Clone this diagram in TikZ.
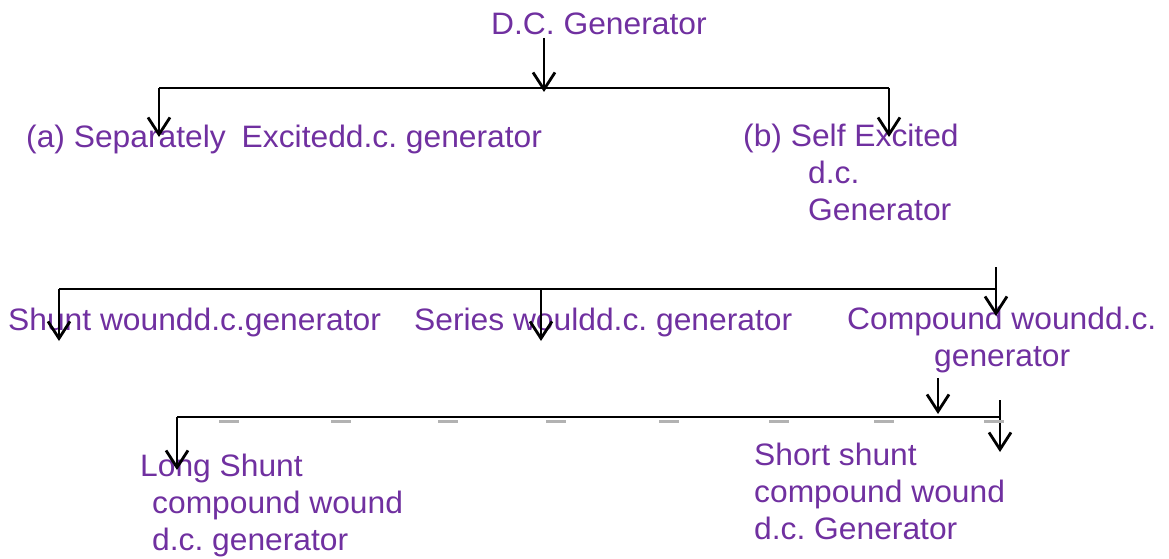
\documentclass[tikz,border=0pt]{standalone}
\usepackage{fontspec}
\setmainfont[FakeStretch=1.025]{Liberation Sans}
\usetikzlibrary{arrows.meta}
\definecolor{txt}{RGB}{112,48,160}
\frenchspacing
\tikzset{
  lbl/.style={text=txt, font=\fontsize{31}{37}\selectfont, inner sep=0pt, anchor=base west, align=left},
  ln/.style={line width=2.8pt, black},
  arr/.style={ln, -{Straight Barb[length=17pt, width=22pt, line width=2.8pt]}},
  smudge/.style={line width=3pt, gray!60}
}
\begin{document}
\begin{tikzpicture}[x=1pt,y=-1pt]
\useasboundingbox (0,0) rectangle (1169,559);
% texts (base = baseline of the last line)
\node[lbl] (root) at (491,35) {D.C. Generator};
\node[lbl] (sep) at (26,147) {(a) Separately\hspace{16pt}Excitedd.c. generator};
\node[lbl] (self) at (743,220) {(b) Self Excited\\\hspace*{65pt}d.c.\\\hspace*{65pt}Generator};
\node[lbl] (shunt) at (8,330) {Shunt woundd.c.generator};
\node[lbl] (series) at (414,330) {Series wouldd.c. generator};
\node[lbl] (comp) at (847,366) {Compound woundd.c.\\\hspace*{87pt}generator};
\node[lbl] (long) at (140,550) {Long Shunt\\\hspace*{12pt}compound wound\\\hspace*{12pt}d.c. generator};
\node[lbl] (short) at (754,539) {Short shunt\\compound wound\\d.c. Generator};
% level 1
\coordinate (r0) at (544,38);
\coordinate (j1) at (544,92);
\coordinate (h1l) at (159,88);
\coordinate (h1r) at (889,88);
\coordinate (ta) at (159,137);
\coordinate (tb) at (889,137);
\draw[arr] (r0) -- (j1);
\draw[ln] (h1l) -- (h1r);
\draw[arr] (h1l) -- (ta);
\draw[arr] (h1r) -- (tb);
% level 2
\coordinate (s0) at (996,267);
\coordinate (h2l) at (59,289);
\coordinate (h2m) at (541,289);
\coordinate (h2r) at (996,289);
\coordinate (tsh) at (59,341);
\coordinate (tse) at (541,341);
\coordinate (tco) at (996,316);
\draw[ln] (h2l) -- (h2r);
\draw[arr] (s0) -- (tco);
\draw[arr] (h2l) -- (tsh);
\draw[arr] (h2m) -- (tse);
% level 3
\coordinate (c0) at (938,378);
\coordinate (j3) at (938,414);
\coordinate (h3l) at (177,417);
\coordinate (h3r) at (1000,417);
\coordinate (s3) at (1000,400);
\coordinate (tlo) at (177,470);
\coordinate (tsr) at (1000,452);
\draw[arr] (c0) -- (j3);
\draw[ln] (h3l) -- (h3r);
\draw[arr] (h3l) -- (tlo);
\draw[arr] (s3) -- (tsr);
% faint marks under the lower line
\foreach \x in {229,341,448,556,669,779,884,994}
  \draw[smudge] (\x-10,421) -- (\x+10,421);
\end{tikzpicture}
\end{document}
